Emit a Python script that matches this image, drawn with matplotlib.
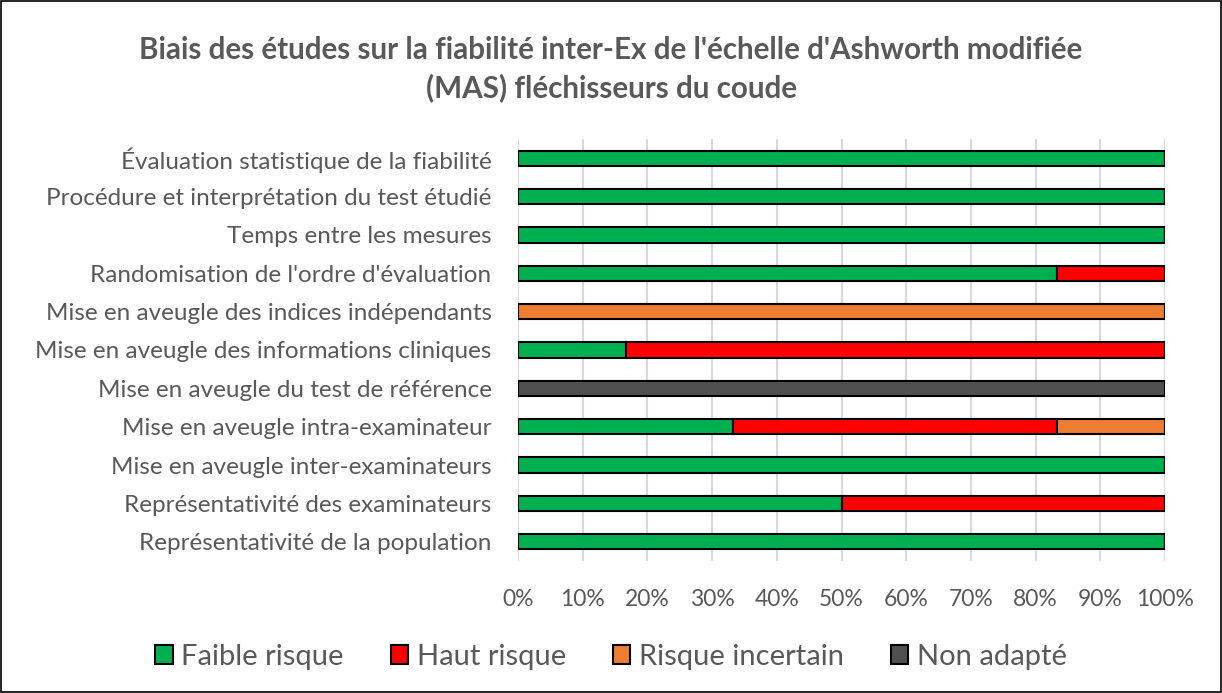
import matplotlib
matplotlib.use("Agg")
import matplotlib.pyplot as plt
import numpy as np

# criteria, listed bottom to top as drawn on the y axis
criteres = [
    "Représentativité de la population",
    "Représentativité des examinateurs",
    "Mise en aveugle inter-examinateurs",
    "Mise en aveugle intra-examinateur",
    "Mise en aveugle du test de référence",
    "Mise en aveugle des informations cliniques",
    "Mise en aveugle des indices indépendants",
    "Randomisation de l'ordre d'évaluation",
    "Temps entre les mesures",
    "Procédure et interprétation du test étudié",
    "Évaluation statistique de la fiabilité",
]

# share of studies (%) per risk level
faible = [100, 50, 100, 33.3, 0, 16.7, 0, 83.3, 100, 100, 100]
haut = [0, 50, 0, 50, 0, 83.3, 0, 16.7, 0, 0, 0]
incertain = [0, 0, 0, 16.7, 0, 0, 100, 0, 0, 0, 0]
non_adapte = [0, 0, 0, 0, 100, 0, 0, 0, 0, 0, 0]

series = [
    ("Faible risque", faible, "#00B050"),
    ("Haut risque", haut, "#FF0000"),
    ("Risque incertain", incertain, "#ED7D31"),
    ("Non adapté", non_adapte, "#505050"),
]

plt.rcParams['font.family'] = ['Lato', 'DejaVu Sans']
txt = "#595959"

fig = plt.figure(figsize=(12.22, 6.93), dpi=100)
ax = fig.add_axes([0.4239, 0.1905, 0.5295, 0.6089])

y = np.arange(len(criteres))
left = np.zeros(len(criteres))
for nom, vals, col in series:
    vals = np.array(vals, dtype=float)
    ax.barh(y, vals, left=left, height=0.4, color=col, edgecolor="black",
            linewidth=1.5, label=nom, zorder=3)
    left += vals

ax.set_xlim(0, 100)
ax.set_ylim(-0.5, len(criteres) - 0.5)
ax.set_xticks(np.arange(0, 101, 10))
ax.set_xticklabels([f"{v}%" for v in range(0, 101, 10)])
ax.set_yticks(y)
ax.set_yticklabels(criteres)
ax.tick_params(axis="both", length=0, colors=txt)
ax.tick_params(axis="x", pad=20, labelsize=16.5)
ax.tick_params(axis="y", pad=19, labelsize=17.5)
ax.grid(axis="x", color="#D9D9D9", linewidth=1.5, zorder=0)
for s in ax.spines.values():
    s.set_visible(False)

fig.text(0.5, 0.928, "Biais des études sur la fiabilité inter-Ex de l'échelle d'Ashworth modifiée",
         ha="center", va="center", fontsize=21.3, fontweight="bold", color=txt)
fig.text(0.5, 0.873, "(MAS) fléchisseurs du coude",
         ha="center", va="center", fontsize=21.3, fontweight="bold", color=txt)

leg = fig.legend(loc="center", bbox_to_anchor=(0.5, 0.052), ncol=4, frameon=False,
                 fontsize=21, handlelength=0.6, handleheight=0.6, handletextpad=0.3,
                 columnspacing=1.6)
for t in leg.get_texts():
    t.set_color(txt)

# outer frame around the whole figure
fig.patches.append(plt.Rectangle((0.001, 0.001), 0.998, 0.998, transform=fig.transFigure,
                                 fill=False, edgecolor="black", linewidth=1.2))

fig.savefig("out.png", dpi=100)
